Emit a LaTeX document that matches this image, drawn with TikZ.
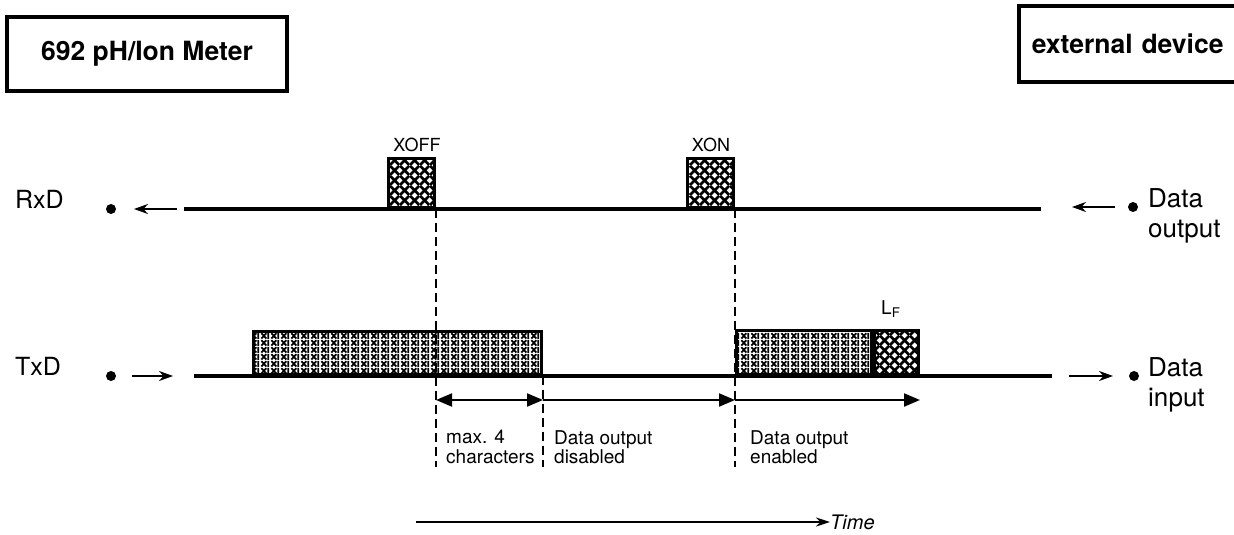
\documentclass[tikz,border=0pt]{standalone}
\usepackage{fontspec}
\setmainfont{TeX Gyre Heros}
\usetikzlibrary{positioning,arrows.meta,patterns.meta}

\tikzdeclarepattern{
  name=denseX,
  type=uncolored,
  bounding box={(0pt,0pt) and (10pt,10pt)},
  tile size={(10pt,10pt)},
  code={
    \draw[line width=2.9pt] (0pt,0pt) -- (10pt,10pt) (0pt,10pt) -- (10pt,0pt);
  }
}
\tikzdeclarepattern{
  name=lightX,
  type=uncolored,
  bounding box={(0pt,0pt) and (10pt,7pt)},
  tile size={(10pt,7pt)},
  code={
    \draw[line width=1.9pt] (1.5pt,0.5pt) -- (7pt,6.5pt) (1.5pt,6.5pt) -- (7pt,0.5pt);
    \draw[line width=1.8pt] (9pt,0pt) -- (9pt,7pt);
  }
}

\begin{document}
\begin{tikzpicture}[x=1pt,y=-1pt]
  \useasboundingbox (0,0) rectangle (1234,535);
  \tikzstyle{every node}=[inner sep=0pt, font=\fontsize{25}{30}\selectfont]
  \tikzstyle{unitbox}=[draw, line width=3.5pt, font=\fontsize{26.5}{30}\selectfont\bfseries]
  \tikzstyle{charbox}=[draw, line width=3pt, pattern=denseX, anchor=south west]
  \tikzstyle{databox}=[draw, line width=3pt, pattern=lightX, anchor=south west]
  \tikzstyle{signal}=[line width=4.5pt]
  \tikzstyle{pin_arrow}=[line width=2pt, -{Stealth[length=14pt,width=10pt]}]
  \tikzstyle{marker}=[line width=2pt, dash pattern=on 9pt off 5pt]
  \tikzstyle{span}=[line width=2pt]
  \tikzstyle{small}=[font=\fontsize{19}{19.5}\selectfont, align=left]
  % units
  \draw (147,54) node (meter) [unitbox, minimum width=280pt, minimum height=74pt] {692 pH/Ion Meter};
  \draw (1017,44) node (device) [unitbox, anchor=west, text width=215pt, inner xsep=13pt, minimum height=76pt, align=left] {external device};
  % line names and pins
  \draw (15,208) node (rxd) [anchor=base west] {RxD};
  \draw (15,375) node (txd) [anchor=base west] {TxD};
  \coordinate (rx_pin) at (111,209);
  \coordinate (tx_pin) at (111,376);
  \coordinate (rx_ext) at (1133,207);
  \coordinate (tx_ext) at (1134,376);
  \fill (rx_pin) circle (5pt);
  \fill (tx_pin) circle (5pt);
  \fill (rx_ext) circle (5pt);
  \fill (tx_ext) circle (5pt);
  \draw (1148,188) node (rx_ext_lbl) [anchor=north west, align=left, font=\fontsize{26}{30}\selectfont] {Data\\output};
  \draw (1148,357) node (tx_ext_lbl) [anchor=north west, align=left, font=\fontsize{26}{30}\selectfont] {Data\\input};
  % characters
  \draw (387,209) node (xoff) [charbox, minimum width=46pt, minimum height=49pt] {};
  \draw (686,209) node (xon) [charbox, minimum width=46pt, minimum height=49pt] {};
  \draw (417,145) node (xoff_lbl) [font=\fontsize{18}{20}\selectfont] {XOFF};
  \draw (711,145) node (xon_lbl) [font=\fontsize{18}{20}\selectfont] {XON};
  \draw (252,376) node (data_a) [databox, minimum width=288pt, minimum height=43pt] {};
  \draw (xon.south east |- tx_pin) node (data_b) [databox, minimum width=135pt, minimum height=44pt] {};
  \draw (data_b.south east) node (lf) [charbox, minimum width=44pt, minimum height=44pt] {};
  \draw (881,314) node (lf_lbl) [anchor=base west, font=\fontsize{19}{20}\selectfont] {L\textsubscript{F}};
  % signal lines
  \coordinate (rx_start) at (184,209);
  \coordinate (rx_end) at (1041,209);
  \coordinate (tx_start) at (194,376);
  \coordinate (tx_end) at (1052,376);
  \draw [signal] (rx_start) -- (rx_end);
  \draw [signal] (tx_start) -- (tx_end);
  \coordinate (rx_tail) at (177,209);
  \coordinate (rx_tip) at (134,209);
  \coordinate (tx_tail) at (132,376);
  \coordinate (tx_tip) at (173,376);
  \draw [pin_arrow] (rx_tail) -- (rx_tip);
  \draw [pin_arrow] (tx_tail) -- (tx_tip);
  \coordinate (rx_ext_tail) at (1115,207);
  \coordinate (rx_ext_tip) at (1072,207);
  \coordinate (tx_ext_tail) at (1069,376);
  \coordinate (tx_ext_tip) at (1113,376);
  \draw [pin_arrow] (rx_ext_tail) -- (rx_ext_tip);
  \draw [pin_arrow] (tx_ext_tail) -- (tx_ext_tip);
  % time marks
  \coordinate (mark_bottom) at (0,467);
  \coordinate (span_row) at (0,400);
  \draw [marker] (xoff.south east) -- (xoff.south east |- mark_bottom);
  \draw [marker] (data_a.south east) -- (data_a.south east |- mark_bottom);
  \draw [marker] (xon.south east) -- (xon.south east |- mark_bottom);
  \draw [span, {Triangle[length=16pt,width=13pt]}-{Triangle[length=16pt,width=13pt]}] (xoff.south east |- span_row) -- (data_a.south east |- span_row);
  \draw [span, -{Triangle[length=16pt,width=13pt]}] (data_a.south east |- span_row) -- (xon.south east |- span_row);
  \coordinate (enable_end) at (920,400);
  \draw [span, -{Triangle[length=16pt,width=13pt]}] (xon.south east |- span_row) -- (enable_end);
  \draw (446,430) node (max_lbl) [small, anchor=north west] {max. 4\\characters};
  \draw (554,430) node (off_lbl) [small, anchor=north west] {Data output\\disabled};
  \draw (750,430) node (on_lbl) [small, anchor=north west] {Data output\\enabled};
  % time axis
  \coordinate (time_start) at (416,522);
  \draw (830,522) node (time_lbl) [anchor=west, font=\fontsize{20}{24}\selectfont\itshape] {Time};
  \draw [line width=2.2pt, -{Stealth[length=14pt,width=9pt]}] (time_start) -- (time_lbl.west);
\end{tikzpicture}
\end{document}
